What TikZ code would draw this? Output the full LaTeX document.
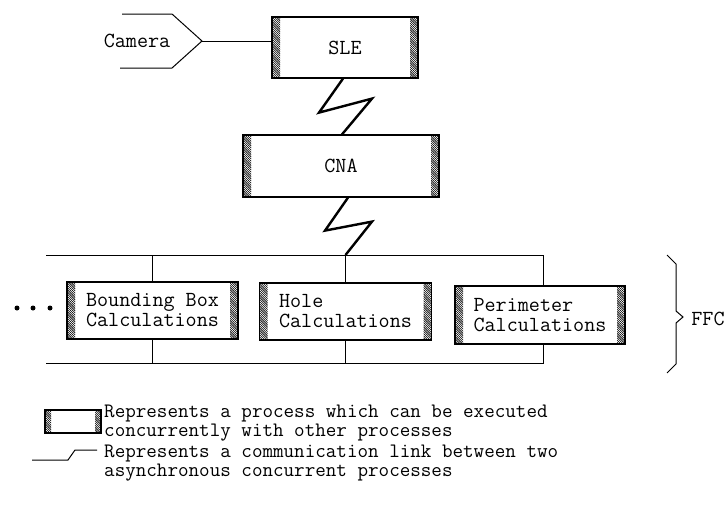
\documentclass[tikz,border=0pt]{standalone}
\usetikzlibrary{patterns.meta,calc}
\tikzdeclarepattern{
  name=densehatch,
  type=uncolored,
  bounding box={(-0.2pt,-0.2pt) and (2.4pt,2.4pt)},
  tile size={(2.2pt,2.2pt)},
  code={\draw[line width=0.6pt] (-0.2pt,2.4pt) -- (2.4pt,-0.2pt);}
}
\begin{document}
\begin{tikzpicture}[x=1pt,y=-1pt,
  txt/.style={font=\ttfamily\fontsize{21.5}{20}\selectfont},
  legtxt/.style={font=\ttfamily\fontsize{20.5}{19}\selectfont, align=left, anchor=west, inner sep=0pt},
  conn/.style={line width=1pt},
  zz/.style={line width=2.4pt, line join=miter},
  proc/.style={draw, line width=1.2pt, txt, align=left, inner sep=0pt,
    path picture={
      \fill[pattern=densehatch] (path picture bounding box.north west) rectangle ([xshift=#1]path picture bounding box.south west);
      \fill[pattern=densehatch] ([xshift=-#1]path picture bounding box.north east) rectangle (path picture bounding box.south east);
    }},
  proc/.default=8pt]
\useasboundingbox (0,0) rectangle (727,504);

% process boxes
\node[proc, minimum width=146pt, minimum height=61pt] (sle) at (345,47.5) {SLE};
\node[proc, minimum width=196pt, minimum height=62pt] (cna) at (341,166) {CNA};
\node[proc, minimum width=171pt, minimum height=57pt] (bb) at (152.5,310.5) {Bounding Box\\Calculations};
\node[proc, minimum width=172pt, minimum height=57pt] (hole) at (345.5,311.5) {Hole\\Calculations};
\node[proc, minimum width=170pt, minimum height=58pt] (per) at (540,315) {Perimeter\\Calculations};

% camera input
\coordinate (campt) at (202,41);
\node[txt, inner sep=0pt] (cam) at (137,41) {Camera};
\draw[conn] (122,14) -- (172,14) -- (campt) -- (172,68) -- (120,68);
\draw[conn] (campt) -- (sle.west |- campt);

% communication links
\draw[zz] ($(sle.south)+(-2,0)$) -- ++(-24,34) -- ++(53,-14) -- ($(cna.north)+(1,0)$);

% bus lines
\coordinate (tl) at (46,255);
\coordinate (tr) at (543,255);
\coordinate (bl) at (46,363);
\coordinate (br) at (543,363);
\draw[zz] ($(cna.south)+(7,0)$) -- ++(-23,33) -- ++(47,-9) -- (hole.north |- tl);
\draw[conn] (tl) -- (tr) -- (tr |- per.north);
\draw[conn] (per.south -| br) -- (br) -- (bl);
\draw[conn] (bb.north) -- (bb.north |- tl);
\draw[conn] (hole.north) -- (hole.north |- tl);
\draw[conn] (bb.south) -- (bb.south |- bl);
\draw[conn] (hole.south) -- (hole.south |- bl);

% ellipsis dots
\fill (17,308) circle (2.5pt);
\fill (33,308) circle (2.5pt);
\fill (50,308) circle (2.5pt);

% brace and FFC
\coordinate (brtop) at (667,255);
\coordinate (brbot) at (667,373);
\coordinate (brtip) at (683,317);
\draw[conn] (brtop) -- (676,264) -- (676,311) -- (brtip) -- (676,323) -- (676,364) -- (brbot);
\node[txt, inner sep=0pt] (ffc) at (708,319) {FFC};

% legend
\node[proc=6pt, minimum width=56pt, minimum height=23pt] (leg) at (73,421.5) {};
\node[legtxt] (legt1) at (104,423) {Represents a process which can be executed\\concurrently with other processes};
\coordinate (lz1) at (32,460);
\coordinate (lz2) at (68,460);
\coordinate (lz3) at (75,450);
\coordinate (lz4) at (97,450);
\draw[conn] (lz1) -- (lz2) -- (lz3) -- (lz4);
\node[legtxt] (legt2) at (104,463) {Represents a communication link between two\\asynchronous concurrent processes};
\end{tikzpicture}
\end{document}
